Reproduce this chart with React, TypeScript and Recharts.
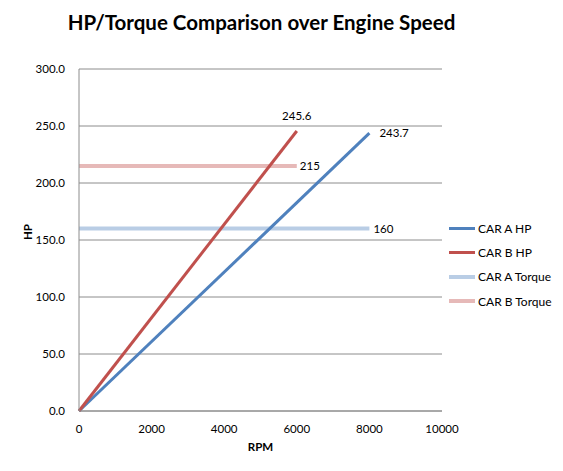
import { LineChart, Line, XAxis, YAxis, CartesianGrid } from 'recharts';

const rpmA = [0, 8000];
const rpmB = [0, 6000];
const hpA = [0, 243.7];
const hpB = [0, 245.6];
const torqueA = [160, 160];
const torqueB = [215, 215];
const rpmTicks = [0, 2000, 4000, 6000, 8000, 10000];
const hpTicks = [0, 50, 100, 150, 200, 250, 300];

const toPoints = (xs: number[], ys: number[]) => xs.map((x, i) => ({ rpm: x, v: ys[i] }));

const SERIES = [
  { name: 'CAR A Torque', data: toPoints(rpmA, torqueA), color: '#B9CDE5', width: 4, label: '160', dx: 4, dy: 4 },
  { name: 'CAR B Torque', data: toPoints(rpmB, torqueB), color: '#E6B9B8', width: 4, label: '215', dx: 3, dy: 4 },
  { name: 'CAR A HP', data: toPoints(rpmA, hpA), color: '#4F81BD', width: 3, label: '243.7', dx: 10, dy: 4 },
  { name: 'CAR B HP', data: toPoints(rpmB, hpB), color: '#C0504D', width: 3, label: '245.6', dx: 0, dy: -11 },
];
const LEGEND_ORDER = ['CAR A HP', 'CAR B HP', 'CAR A Torque', 'CAR B Torque'];

const FONT = 'Lato, "Open Sans", sans-serif';

function endLabel(text: string, dx: number, dy: number, last: number) {
  return (props: any) => {
    if (props.index !== last) return null;
    const { x, y } = props;
    return (
      <text x={x + dx} y={y + dy} textAnchor={dx === 0 ? 'middle' : 'start'} fontSize={11.5} fill="#000" fontFamily={FONT}>
        {text}
      </text>
    );
  };
}

export default function App() {
  return (
    <div style={{ position: 'absolute', left: 0, top: 0, width: 563, height: 471, background: '#fff', fontFamily: FONT }}>
      <div style={{ position: 'absolute', top: 10, left: -20, width: 563, textAlign: 'center', fontSize: 20.5, fontWeight: 700, color: '#000' }}>
        HP/Torque Comparison over Engine Speed
      </div>
      <LineChart width={563} height={471} margin={{ top: 69, right: 121, left: 0, bottom: 20 }}>
        <CartesianGrid horizontal={true} vertical={false} stroke="#8C8C8C" />
        <XAxis
          type="number"
          dataKey="rpm"
          domain={[0, 10000]}
          ticks={rpmTicks}
          height={40}
          tick={{ fontSize: 11.5, fill: '#000', fontFamily: FONT }}
          tickLine={false}
          tickMargin={8}
          axisLine={{ stroke: '#8C8C8C' }}
          allowDuplicatedCategory={false}
          label={{ value: 'RPM', position: 'insideBottom', offset: 0, fontSize: 11.5, fontWeight: 700, fill: '#000', fontFamily: FONT }}
        />
        <YAxis
          type="number"
          dataKey="v"
          domain={[0, 300]}
          ticks={hpTicks}
          width={79}
          tick={{ fontSize: 11.5, fill: '#000', fontFamily: FONT }}
          tickFormatter={(v: number) => v.toFixed(1)}
          tickLine={false}
          tickMargin={8}
          axisLine={{ stroke: '#8C8C8C' }}
          label={{ value: 'HP', angle: -90, position: 'insideLeft', offset: 28, fontSize: 11.5, fontWeight: 700, fill: '#000', fontFamily: FONT }}
        />
        {SERIES.map(s => (
          <Line
            key={s.name}
            data={s.data}
            dataKey="v"
            name={s.name}
            type="linear"
            stroke={s.color}
            strokeWidth={s.width}
            dot={false}
            activeDot={false}
            isAnimationActive={false}
            label={endLabel(s.label, s.dx, s.dy, s.data.length - 1)}
          />
        ))}
      </LineChart>
      <div style={{ position: 'absolute', left: 449, top: 216 }}>
        {LEGEND_ORDER.map(n => {
          const s = SERIES.find(x => x.name === n)!;
          return (
            <div key={n} style={{ display: 'flex', alignItems: 'center', height: 24.3, fontSize: 12, color: '#000' }}>
              <div style={{ width: 26, height: 0, borderTop: `${s.width}px solid ${s.color}`, marginRight: 3 }} />
              <span>{n}</span>
            </div>
          );
        })}
      </div>
    </div>
  );
}
